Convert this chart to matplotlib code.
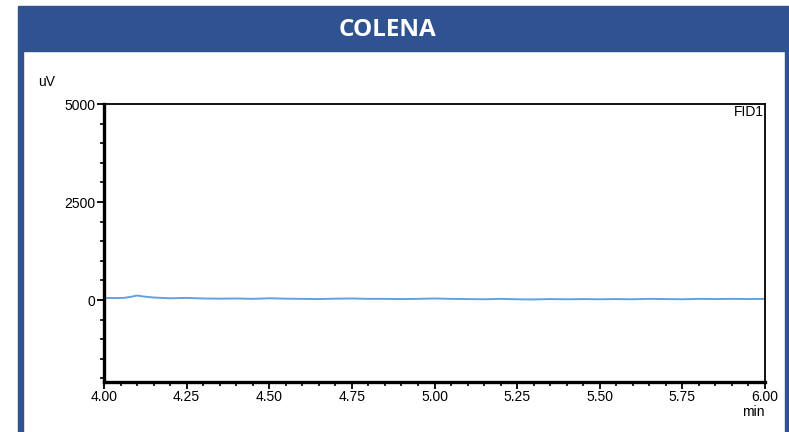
import matplotlib.pyplot as plt
from matplotlib.patches import Rectangle
from matplotlib.ticker import MultipleLocator

# chromatogram trace (min, uV)
time_min = [4.00, 4.03, 4.06, 4.08, 4.10, 4.12, 4.15, 4.20, 4.25, 4.30, 4.35,
            4.40, 4.45, 4.50, 4.55, 4.60, 4.65, 4.70, 4.75, 4.80, 4.85, 4.90,
            4.95, 5.00, 5.05, 5.10, 5.15, 5.20, 5.25, 5.30, 5.35, 5.40, 5.45,
            5.50, 5.55, 5.60, 5.65, 5.70, 5.75, 5.80, 5.85, 5.90, 5.95, 6.00]
signal_uv = [55, 50, 55, 80, 115, 90, 65, 45, 55, 40, 35,
             40, 30, 45, 35, 30, 25, 35, 40, 30, 30, 25,
             30, 40, 30, 25, 20, 30, 20, 15, 25, 20, 25,
             20, 25, 20, 30, 25, 20, 30, 25, 30, 25, 30]

title = 'COLENA'
channel = 'FID1'
y_ticks = [0, 2500, 5000]
x_ticks = [4.00, 4.25, 4.50, 4.75, 5.00, 5.25, 5.50, 5.75, 6.00]

blue = '#2f5291'
trace_color = '#62a3e2'

plt.rcParams['font.family'] = ['Liberation Sans', 'DejaVu Sans']
fig = plt.figure(figsize=(7.89, 4.32), dpi=100)

# frame: banner plus side borders
W, H = 789, 432
fig.patches.append(Rectangle((18 / W, (H - 51) / H), (W - 18) / W, 45 / H,
                             transform=fig.transFigure, color=blue, zorder=0))
fig.patches.append(Rectangle((18 / W, 0), 5 / W, (H - 51) / H,
                             transform=fig.transFigure, color=blue, zorder=0))
fig.patches.append(Rectangle((785 / W, 0), 4 / W, (H - 51) / H,
                             transform=fig.transFigure, color=blue, zorder=0))
fig.text(387 / W, (H - 30) / H, title, color='white',
         fontsize=17.5, fontweight='bold', family='Open Sans',
         ha='center', va='center')

ax = fig.add_axes([104 / W, (H - 382) / H, 661 / W, 278 / H])
ax.plot(time_min, signal_uv, color=trace_color, linewidth=1.4)
ax.set_xlim(4.0, 6.0)
ax.set_ylim(-2090, 5000)
ax.set_xticks(x_ticks)
ax.set_xticklabels([f'{t:.2f}' for t in x_ticks])
ax.set_yticks(y_ticks)
ax.xaxis.set_minor_locator(MultipleLocator(0.05))
ax.yaxis.set_minor_locator(MultipleLocator(500))
ax.tick_params(which='major', length=5, width=1.3, labelsize=10, pad=1)
ax.tick_params(which='minor', length=3, width=1.2)
ax.tick_params(axis='x', pad=1)
ax.tick_params(top=False, right=False)
for side in ['left', 'bottom']:
    ax.spines[side].set_linewidth(2.4)
for side in ['top', 'right']:
    ax.spines[side].set_linewidth(1.3)

ax.text(0.999, 0.997, channel, transform=ax.transAxes, ha='right', va='top',
        fontsize=10)
fig.text(38 / W, (H - 82) / H, 'uV', fontsize=10, ha='left', va='center')
fig.text(765 / W, (H - 412) / H, 'min', fontsize=10, ha='right', va='center')

fig.savefig('out.png', dpi=100)
